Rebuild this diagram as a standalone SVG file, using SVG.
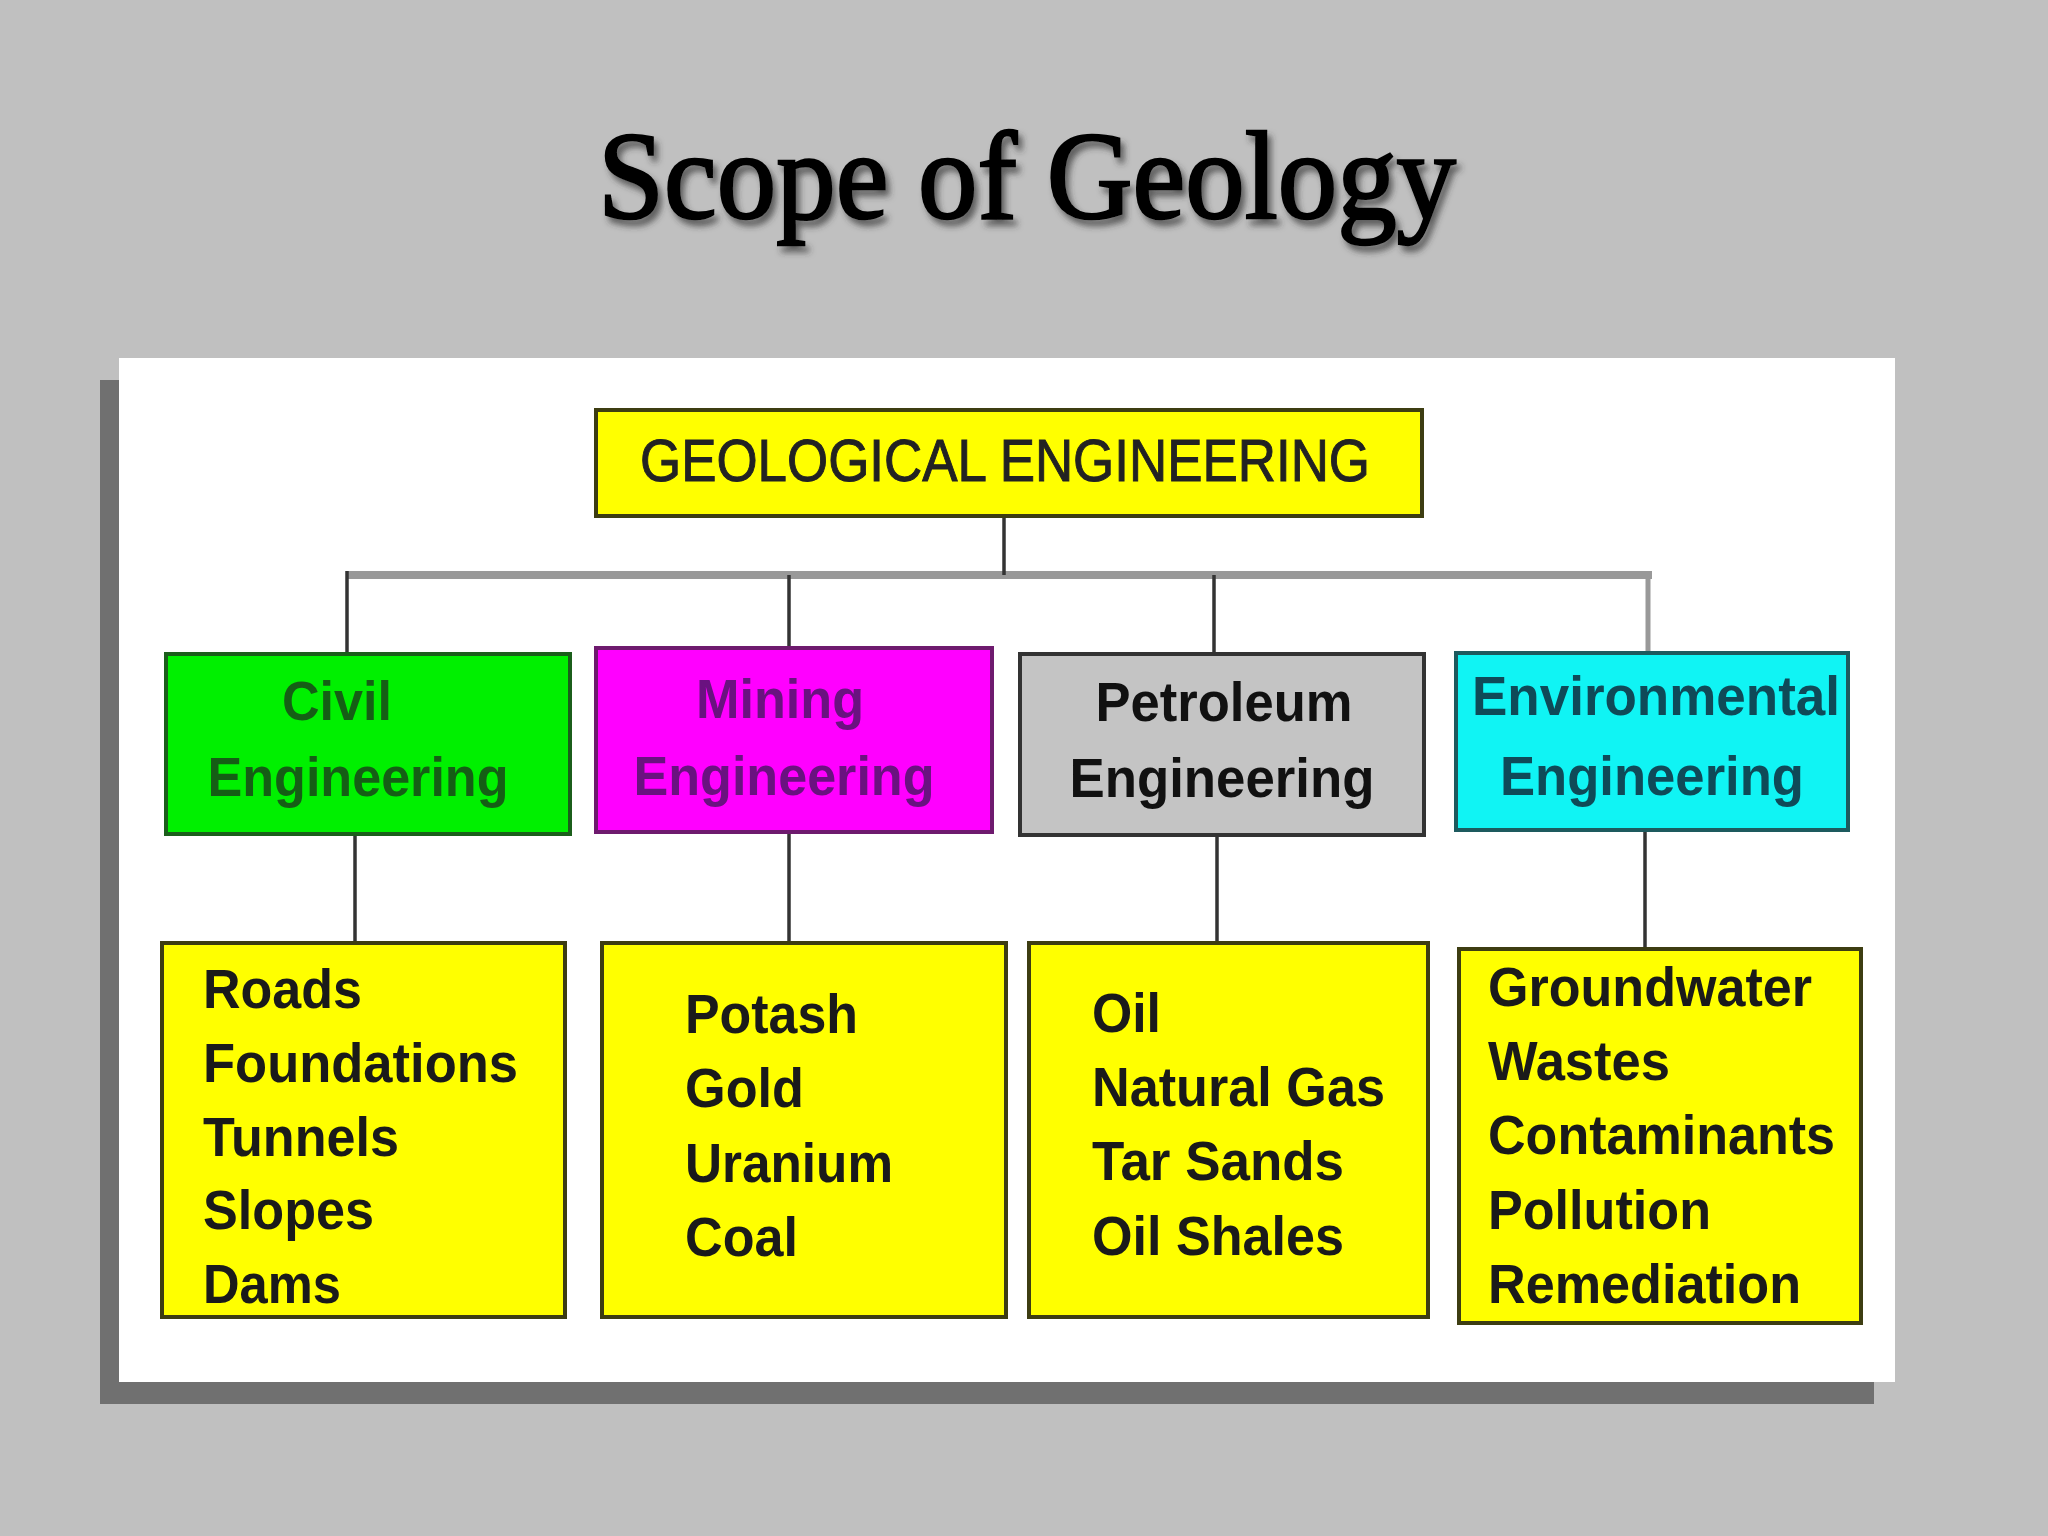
<svg xmlns="http://www.w3.org/2000/svg" width="2048" height="1536" viewBox="0 0 2048 1536">
  <defs>
    <filter id="tshadow" x="-5%" y="-20%" width="110%" height="150%">
      <feDropShadow dx="4" dy="6" stdDeviation="3" flood-color="#333333" flood-opacity="0.7"/>
    </filter>
  </defs>
  <style>
    .title { font-family: "Liberation Serif", "Times New Roman", serif; font-size: 125px; fill: #000000; stroke: #000000; stroke-width: 2.5; }
    .box { stroke-width: 4; }
    .yellow { fill: #ffff00; stroke: #3d3d12; }
    .civil { fill: #00f000; stroke: #1b5e1b; }
    .mining { fill: #ff00ff; stroke: #6e1a6e; }
    .petro { fill: #c4c4c4; stroke: #333333; }
    .env { fill: #10f4f4; stroke: #1d5a5e; }
    .head { font-family: "Liberation Sans", Arial, sans-serif; font-size: 60px; fill: #222222; stroke: #222222; stroke-width: 1; }
    .lbl { font-family: "Liberation Sans", Arial, sans-serif; font-weight: bold; font-size: 56px; text-anchor: middle; }
    .item { font-family: "Liberation Sans", Arial, sans-serif; font-weight: bold; font-size: 56px; fill: #1a1a1a; }
    .dark { stroke: #333333; stroke-width: 3.5; fill: none; }
    .grey { stroke: #999999; stroke-width: 8; fill: none; }
  </style>

  <rect x="0" y="0" width="2048" height="1536" fill="#c0c0c0"/>

  <text class="title" x="1027" y="218" text-anchor="middle" textLength="858" lengthAdjust="spacingAndGlyphs" filter="url(#tshadow)">Scope of Geology</text>

  <rect x="100" y="380" width="1774" height="1024" fill="#707070"/>
  <rect x="119" y="358" width="1776" height="1024" fill="#ffffff"/>

  <g id="connectors">
    <line class="grey" x1="347" y1="575" x2="1652" y2="575"/>
    <line class="dark" x1="1004" y1="516" x2="1004" y2="575"/>
    <line class="dark" x1="347" y1="571" x2="347" y2="654"/>
    <line class="dark" x1="789" y1="575" x2="789" y2="648"/>
    <line class="dark" x1="1214" y1="575" x2="1214" y2="653"/>
    <line class="grey" x1="1648" y1="571" x2="1648" y2="653" style="stroke-width:5"/>
    <line class="dark" x1="355" y1="835" x2="355" y2="943"/>
    <line class="dark" x1="789" y1="832" x2="789" y2="943"/>
    <line class="dark" x1="1217" y1="835" x2="1217" y2="943"/>
    <line class="dark" x1="1645" y1="830" x2="1645" y2="949"/>
  </g>

  <g id="geological-engineering">
    <rect class="box yellow" x="596" y="410" width="826" height="106"/>
    <text class="head" x="1005" y="481" text-anchor="middle" textLength="730" lengthAdjust="spacingAndGlyphs">GEOLOGICAL ENGINEERING</text>
  </g>

  <g id="civil-engineering">
    <rect class="box civil" x="166" y="654" width="404" height="180"/>
    <text class="lbl" x="337" y="720" fill="#155e15" textLength="110" lengthAdjust="spacingAndGlyphs">Civil</text>
    <text class="lbl" x="358" y="796" fill="#155e15" textLength="301" lengthAdjust="spacingAndGlyphs">Engineering</text>
  </g>

  <g id="mining-engineering">
    <rect class="box mining" x="596" y="648" width="396" height="184"/>
    <text class="lbl" x="780" y="718" fill="#6a1280" textLength="168" lengthAdjust="spacingAndGlyphs">Mining</text>
    <text class="lbl" x="784" y="795" fill="#6a1280" textLength="301" lengthAdjust="spacingAndGlyphs">Engineering</text>
  </g>

  <g id="petroleum-engineering">
    <rect class="box petro" x="1020" y="654" width="404" height="181"/>
    <text class="lbl" x="1224" y="721" fill="#111111" textLength="257" lengthAdjust="spacingAndGlyphs">Petroleum</text>
    <text class="lbl" x="1222" y="797" fill="#111111" textLength="305" lengthAdjust="spacingAndGlyphs">Engineering</text>
  </g>

  <g id="environmental-engineering">
    <rect class="box env" x="1456" y="653" width="392" height="177"/>
    <text class="lbl" x="1656" y="715" fill="#0f4a58" textLength="368" lengthAdjust="spacingAndGlyphs">Environmental</text>
    <text class="lbl" x="1652" y="795" fill="#0f4a58" textLength="304" lengthAdjust="spacingAndGlyphs">Engineering</text>
  </g>

  <g id="civil-items">
    <rect class="box yellow" x="162" y="943" width="403" height="374"/>
    <text class="item" x="203" y="1008" textLength="159" lengthAdjust="spacingAndGlyphs">Roads</text>
    <text class="item" x="203" y="1082" textLength="315" lengthAdjust="spacingAndGlyphs">Foundations</text>
    <text class="item" x="203" y="1156" textLength="196" lengthAdjust="spacingAndGlyphs">Tunnels</text>
    <text class="item" x="203" y="1229" textLength="171" lengthAdjust="spacingAndGlyphs">Slopes</text>
    <text class="item" x="203" y="1303" textLength="138" lengthAdjust="spacingAndGlyphs">Dams</text>
  </g>

  <g id="mining-items">
    <rect class="box yellow" x="602" y="943" width="404" height="374"/>
    <text class="item" x="685" y="1033" textLength="173" lengthAdjust="spacingAndGlyphs">Potash</text>
    <text class="item" x="685" y="1107" textLength="119" lengthAdjust="spacingAndGlyphs">Gold</text>
    <text class="item" x="685" y="1182" textLength="208" lengthAdjust="spacingAndGlyphs">Uranium</text>
    <text class="item" x="685" y="1256" textLength="113" lengthAdjust="spacingAndGlyphs">Coal</text>
  </g>

  <g id="petroleum-items">
    <rect class="box yellow" x="1029" y="943" width="399" height="374"/>
    <text class="item" x="1092" y="1032" textLength="69" lengthAdjust="spacingAndGlyphs">Oil</text>
    <text class="item" x="1092" y="1106" textLength="293" lengthAdjust="spacingAndGlyphs">Natural Gas</text>
    <text class="item" x="1092" y="1180" textLength="252" lengthAdjust="spacingAndGlyphs">Tar Sands</text>
    <text class="item" x="1092" y="1255" textLength="252" lengthAdjust="spacingAndGlyphs">Oil Shales</text>
  </g>

  <g id="environmental-items">
    <rect class="box yellow" x="1459" y="949" width="402" height="374"/>
    <text class="item" x="1488" y="1006" textLength="324" lengthAdjust="spacingAndGlyphs">Groundwater</text>
    <text class="item" x="1488" y="1080" textLength="182" lengthAdjust="spacingAndGlyphs">Wastes</text>
    <text class="item" x="1488" y="1154" textLength="347" lengthAdjust="spacingAndGlyphs">Contaminants</text>
    <text class="item" x="1488" y="1229" textLength="223" lengthAdjust="spacingAndGlyphs">Pollution</text>
    <text class="item" x="1488" y="1303" textLength="313" lengthAdjust="spacingAndGlyphs">Remediation</text>
  </g>
</svg>
